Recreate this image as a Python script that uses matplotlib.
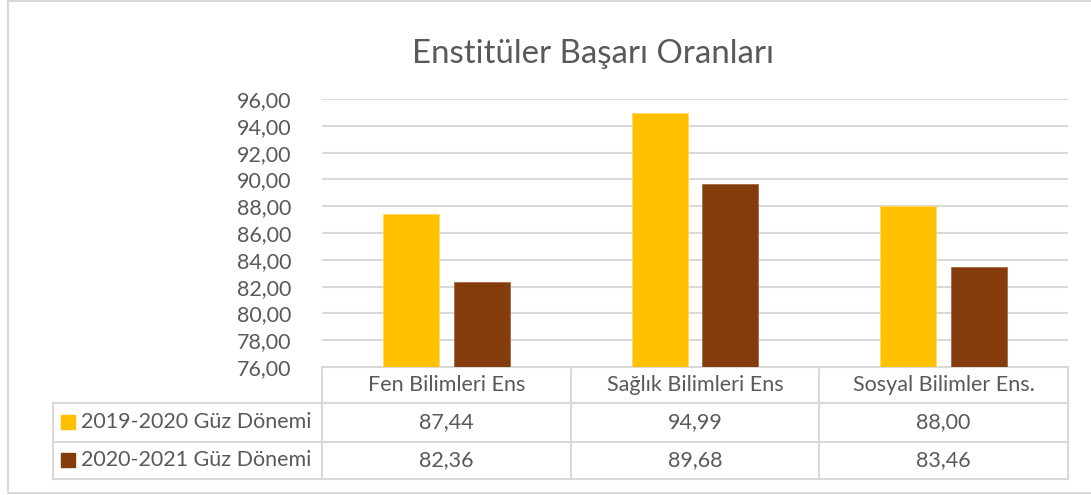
import matplotlib
matplotlib.use("Agg")
import matplotlib.pyplot as plt
import numpy as np
from matplotlib.patches import Rectangle

plt.rcParams['font.family'] = ['Lato', 'DejaVu Sans']

title = "Enstitüler Başarı Oranları"
categories = ["Fen Bilimleri Ens", "Sağlık Bilimleri Ens", "Sosyal Bilimler Ens."]
series_names = ["2019-2020 Güz Dönemi", "2020-2021 Güz Dönemi"]
values_2019 = [87.44, 94.99, 88.00]
values_2020 = [82.36, 89.68, 83.46]
yticks = [76, 78, 80, 82, 84, 86, 88, 90, 92, 94, 96]

colors = ["#FFC000", "#843C0C"]
text_color = "#595959"
grid_color = "#D9D9D9"

W, H = 1091, 495
fig = plt.figure(figsize=(W / 100, H / 100), dpi=100)

# pixel layout
L, R, T, B = 322, 1068, 99, 367
ax = fig.add_axes([L / W, 1 - B / H, (R - L) / W, (B - T) / H])

x = np.arange(len(categories))
bw = 0.225
off = 0.1416
ax.bar(x - off, values_2019, width=bw, color=colors[0], edgecolor="#FFD966", linewidth=0.6, zorder=3)
ax.bar(x + off, values_2020, width=bw, color=colors[1], edgecolor="#A9683F", linewidth=0.6, zorder=3)
ax.set_xlim(-0.5, len(categories) - 0.5)
ax.set_ylim(yticks[0], yticks[-1])
ax.set_yticks(yticks)
ax.set_yticklabels([f"{v:.2f}".replace(".", ",") for v in yticks])
ax.tick_params(axis="y", length=0, pad=22, labelsize=15.5, labelcolor=text_color)
ax.set_xticks([])
ax.grid(axis="y", color=grid_color, linewidth=1.5, zorder=0)
for s in ax.spines.values():
    s.set_visible(False)

# overlay in pixel coordinates
ov = fig.add_axes([0, 0, 1, 1], zorder=-1)
ov.set_xlim(0, W)
ov.set_ylim(H, 0)
ov.axis("off")

# outer chart border
ov.plot([8, 8, 1095], [1, 493, 493], color=grid_color, lw=1.5)
ov.plot([8, 1095], [1, 1], color=grid_color, lw=1.5)

# data table
cols = [322, 571, 819, 1068]
rows = [367, 403, 441.7, 479]
lc = grid_color
ov.plot([cols[0], cols[-1]], [rows[0], rows[0]], color=lc, lw=1.5)
for yy in rows[1:]:
    ov.plot([53, cols[-1]], [yy, yy], color=lc, lw=1.5)
for xx in cols:
    ov.plot([xx, xx], [rows[0], rows[-1]], color=lc, lw=1.5)
ov.plot([53, 53], [rows[1], rows[-1]], color=lc, lw=1.5)

fs = 15.5
for i, c in enumerate(categories):
    cx = (cols[i] + cols[i + 1]) / 2
    ov.text(cx, (rows[0] + rows[1]) / 2, c, ha="center", va="center", fontsize=fs, color=text_color)
    for r, vals in enumerate([values_2019, values_2020]):
        cy = (rows[r + 1] + rows[r + 2]) / 2
        ov.text(cx, cy, f"{vals[i]:.2f}".replace(".", ","), ha="center", va="center", fontsize=fs, color=text_color)

for r, name in enumerate(series_names):
    cy = (rows[r + 1] + rows[r + 2]) / 2
    ov.add_patch(Rectangle((61, cy - 7), 14, 14, color=colors[r]))
    ov.text(81, cy, name, ha="left", va="center", fontsize=fs, color=text_color)

ov.text(593.5, 63, title, ha="center", va="baseline", fontsize=23.8, color=text_color)

fig.savefig("out.png", dpi=100)
